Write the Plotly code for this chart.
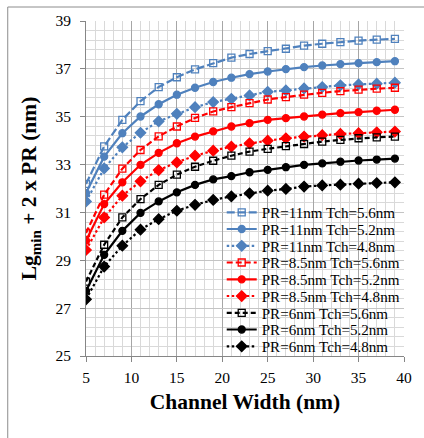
import plotly.graph_objects as go

# Channel width sweep (nm)
channel_width = [5, 7, 9, 11, 13, 15, 17, 19, 21, 23, 25, 27, 29, 31, 33, 35, 37, 39]

# Lg_min + 2 x PR (nm) for each PR / Tch combination
pr11_tch56 = [32.19, 33.76, 34.87, 35.65, 36.24, 36.65, 36.98, 37.24, 37.47,
              37.62, 37.74, 37.84, 37.97, 38.05, 38.12, 38.18, 38.22, 38.25]
pr11_tch52 = [31.81, 33.33, 34.31, 35.01, 35.52, 35.92, 36.21, 36.45, 36.63,
              36.78, 36.89, 36.99, 37.07, 37.14, 37.20, 37.24, 37.28, 37.32]
pr11_tch48 = [31.46, 32.84, 33.72, 34.33, 34.81, 35.12, 35.40, 35.61, 35.75,
              35.89, 36.04, 36.10, 36.18, 36.24, 36.31, 36.35, 36.38, 36.42]
pr85_tch56 = [30.14, 31.74, 32.83, 33.61, 34.18, 34.59, 34.95, 35.22, 35.40,
              35.57, 35.72, 35.82, 35.92, 36.00, 36.07, 36.13, 36.17, 36.21]
pr85_tch52 = [29.82, 31.35, 32.26, 32.99, 33.49, 33.89, 34.17, 34.39, 34.59,
              34.73, 34.87, 34.94, 35.01, 35.09, 35.15, 35.19, 35.25, 35.29]
pr85_tch48 = [29.43, 30.79, 31.70, 32.30, 32.77, 33.09, 33.37, 33.58, 33.75,
              33.89, 34.00, 34.10, 34.17, 34.23, 34.28, 34.31, 34.35, 34.38]
pr6_tch56 = [28.11, 29.65, 30.79, 31.56, 32.15, 32.58, 32.91, 33.16, 33.37,
             33.54, 33.66, 33.77, 33.86, 33.96, 34.03, 34.10, 34.14, 34.17]
pr6_tch52 = [27.72, 29.23, 30.23, 30.98, 31.46, 31.84, 32.15, 32.38, 32.52,
             32.68, 32.78, 32.89, 32.99, 33.05, 33.12, 33.17, 33.21, 33.25]
pr6_tch48 = [27.37, 28.74, 29.61, 30.28, 30.72, 31.07, 31.32, 31.52, 31.67,
             31.80, 31.91, 31.98, 32.08, 32.13, 32.16, 32.20, 32.23, 32.26]

series_names = [
    "PR=11nm Tch=5.6nm", "PR=11nm Tch=5.2nm", "PR=11nm Tch=4.8nm",
    "PR=8.5nm Tch=5.6nm", "PR=8.5nm Tch=5.2nm", "PR=8.5nm Tch=4.8nm",
    "PR=6nm Tch=5.6nm", "PR=6nm Tch=5.2nm", "PR=6nm Tch=4.8nm",
]
series_values = [pr11_tch56, pr11_tch52, pr11_tch48,
                 pr85_tch56, pr85_tch52, pr85_tch48,
                 pr6_tch56, pr6_tch52, pr6_tch48]

x_tick_values = [5, 10, 15, 20, 25, 30, 35, 40]
y_tick_values = [25, 27, 29, 31, 33, 35, 37, 39]

BLUE = "#4F81BD"
RED = "#FF0000"
BLACK = "#000000"
colors = [BLUE] * 3 + [RED] * 3 + [BLACK] * 3
# Tch=5.6 -> open square / dashed, 5.2 -> filled circle / solid, 4.8 -> diamond / dotted
styles = [
    dict(symbol="square-open", size=7, dash="8px,3px"),
    dict(symbol="circle", size=7, dash="solid"),
    dict(symbol="diamond", size=8, dash="2.5px,2.5px"),
] * 3
styles[3] = dict(symbol="square-open", size=7, dash="6px,3px")
styles[6] = dict(symbol="square-open", size=7, dash="5px,3px")

SERIF = "Liberation Serif, Times New Roman, serif"

fig = go.Figure()

# Plot-area pixel geometry used to place each legend row
PLOT_L, PLOT_R, PLOT_T, PLOT_B = 86, 407, 21, 356
legend_rows_px = [212.5, 229.2, 246.0, 262.7, 279.5, 296.2, 313.0, 329.7, 346.5]
legend_left_px = 223

layout_legends = {}
for i, (name, vals, col, st) in enumerate(zip(series_names, series_values, colors, styles)):
    key = "legend" if i == 0 else f"legend{i + 1}"
    fig.add_trace(go.Scatter(
        x=channel_width, y=vals, name=name, mode="lines+markers",
        line=dict(color=col, width=2.2, dash=st["dash"]),
        marker=dict(symbol=st["symbol"], size=st["size"], color=col,
                    line=dict(color=col, width=1.3)),
        legend=key,
    ))
    layout_legends[key] = dict(
        x=(legend_left_px - PLOT_L) / (PLOT_R - PLOT_L),
        y=(PLOT_B - legend_rows_px[i]) / (PLOT_B - PLOT_T),
        xanchor="left", yanchor="middle",
        bgcolor="rgba(0,0,0,0)", borderwidth=0,
        font=dict(family=SERIF, size=15.1, color="#000000"),
        itemwidth=30,
    )

grid_minor = "#d9d9d9"

fig.update_layout(
    width=424, height=438,
    margin=dict(l=PLOT_L, r=424 - PLOT_R, t=PLOT_T, b=438 - PLOT_B),
    paper_bgcolor="white", plot_bgcolor="white",
    showlegend=True,
    font=dict(family=SERIF, size=15, color="#000000"),
    xaxis=dict(
        range=[5, 40], tickvals=x_tick_values, ticktext=[str(v) for v in x_tick_values],
        showgrid=True, gridcolor="#a6a6a6", gridwidth=1,
        minor=dict(tick0=5, dtick=1, showgrid=True, gridcolor=grid_minor, gridwidth=1),
        showline=True, linecolor="#868686", linewidth=1,
        ticks="outside", ticklen=5, tickcolor="#868686",
        ticklabelstandoff=2,
        zeroline=False,
        tickfont=dict(family=SERIF, size=15.5),
        title=dict(text="<b>Channel Width (nm)</b>",
                   font=dict(family=SERIF, size=21.5), standoff=9),
    ),
    yaxis=dict(
        range=[25, 39], tickvals=y_tick_values, ticktext=[str(v) for v in y_tick_values],
        showgrid=True, gridcolor="#c4c4c4", gridwidth=1,
        minor=dict(tick0=25, dtick=0.4, showgrid=True, gridcolor=grid_minor, gridwidth=1),
        showline=True, linecolor="#868686", linewidth=1,
        ticks="outside", ticklen=5, tickcolor="#868686",
        ticklabelstandoff=6,
        zeroline=False,
        tickfont=dict(family=SERIF, size=15.5),
        title=dict(text="<b>Lg<sub>min</sub> + 2 x PR (nm)</b>",
                   font=dict(family=SERIF, size=21.5), standoff=12),
    ),
    **layout_legends,
)

# Chart-area frame (top and left edges)
fx = (7 - PLOT_L) / (PLOT_R - PLOT_L)
fy = (PLOT_B - 7) / (PLOT_B - PLOT_T)
fig.add_shape(type="line", xref="paper", yref="paper", x0=fx, x1=1.3, y0=fy, y1=fy,
              line=dict(color="#8c8c8c", width=1))
fig.add_shape(type="line", xref="paper", yref="paper", x0=fx, x1=fx, y0=fy, y1=-0.3,
              line=dict(color="#8c8c8c", width=1))

fig.write_html("out.html")
